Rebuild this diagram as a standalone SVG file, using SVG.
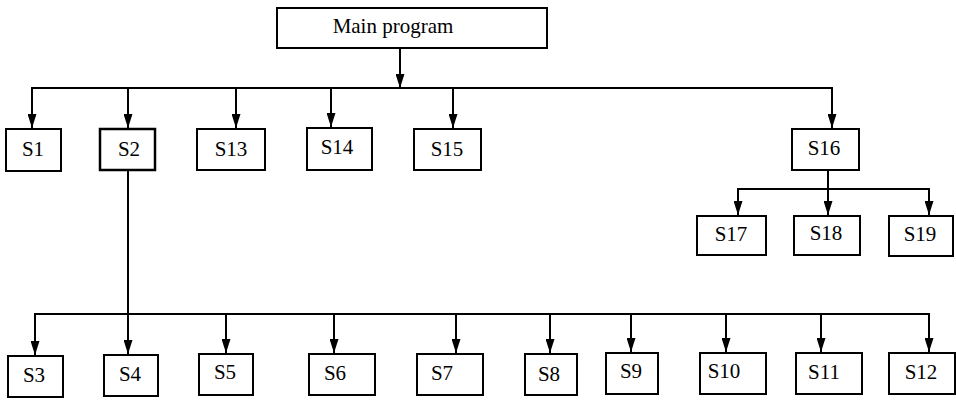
<svg xmlns="http://www.w3.org/2000/svg" width="956" height="400" viewBox="0 0 956 400">
<style>
.box{fill:#fff;stroke:#000;stroke-width:2}
.thick{stroke-width:2.5}
.lbl{font-family:"Liberation Serif","Times New Roman",serif;font-size:21px;fill:#000;text-anchor:middle}
.ln{fill:none;stroke:#000;stroke-width:2}
</style>
<defs>
<marker id="ah" markerUnits="userSpaceOnUse" markerWidth="14" markerHeight="9" refX="14" refY="4.5" orient="auto" viewBox="0 0 14 9">
<path d="M0,0 L14,4.5 L0,9 z" fill="#000"/>
</marker>
</defs>
<rect width="956" height="400" fill="#fff"/>
<g id="connectors">
<line class="ln" x1="400" y1="48" x2="400" y2="88" marker-end="url(#ah)"/>
<line class="ln" x1="31" y1="88" x2="833" y2="88"/>
<line class="ln" x1="32" y1="88" x2="32" y2="128" marker-end="url(#ah)"/>
<line class="ln" x1="128" y1="88" x2="128" y2="128" marker-end="url(#ah)"/>
<line class="ln" x1="236" y1="88" x2="236" y2="128" marker-end="url(#ah)"/>
<line class="ln" x1="331" y1="88" x2="331" y2="127" marker-end="url(#ah)"/>
<line class="ln" x1="453" y1="88" x2="453" y2="128" marker-end="url(#ah)"/>
<line class="ln" x1="832" y1="88" x2="832" y2="128" marker-end="url(#ah)"/>
<line class="ln" x1="828" y1="170" x2="828" y2="189"/>
<line class="ln" x1="737" y1="189" x2="930" y2="189"/>
<line class="ln" x1="738" y1="189" x2="738" y2="215" marker-end="url(#ah)"/>
<line class="ln" x1="828" y1="189" x2="828" y2="215" marker-end="url(#ah)"/>
<line class="ln" x1="929" y1="189" x2="929" y2="215" marker-end="url(#ah)"/>
<line class="ln" x1="128" y1="170" x2="128" y2="314"/>
<line class="ln" x1="34" y1="314" x2="930" y2="314"/>
<line class="ln" x1="35" y1="314" x2="35" y2="355" marker-end="url(#ah)"/>
<line class="ln" x1="128" y1="314" x2="128" y2="354" marker-end="url(#ah)"/>
<line class="ln" x1="226" y1="314" x2="226" y2="353" marker-end="url(#ah)"/>
<line class="ln" x1="334" y1="314" x2="334" y2="353" marker-end="url(#ah)"/>
<line class="ln" x1="456" y1="314" x2="456" y2="353" marker-end="url(#ah)"/>
<line class="ln" x1="550" y1="314" x2="550" y2="353" marker-end="url(#ah)"/>
<line class="ln" x1="631" y1="314" x2="631" y2="352" marker-end="url(#ah)"/>
<line class="ln" x1="726" y1="314" x2="726" y2="352" marker-end="url(#ah)"/>
<line class="ln" x1="821" y1="314" x2="821" y2="352" marker-end="url(#ah)"/>
<line class="ln" x1="929" y1="314" x2="929" y2="352" marker-end="url(#ah)"/>
</g>
<g id="main"><rect class="box" x="277" y="8" width="270" height="40"/><text class="lbl" x="393" y="33">Main program</text></g>
<g id="s1"><rect class="box" x="6" y="129" width="55" height="42"/><text class="lbl" x="33" y="156">S1</text></g>
<g id="s2"><rect class="box thick" x="100" y="129" width="55" height="41"/><text class="lbl" x="129" y="156">S2</text></g>
<g id="s13"><rect class="box" x="197" y="129" width="68" height="41"/><text class="lbl" x="231" y="156">S13</text></g>
<g id="s14"><rect class="box" x="307" y="128" width="65" height="42"/><text class="lbl" x="337" y="154">S14</text></g>
<g id="s15"><rect class="box" x="414" y="129" width="67" height="41"/><text class="lbl" x="447" y="156">S15</text></g>
<g id="s16"><rect class="box" x="792" y="129" width="67" height="41"/><text class="lbl" x="824" y="155">S16</text></g>
<g id="s17"><rect class="box" x="697" y="216" width="69" height="39"/><text class="lbl" x="731" y="241">S17</text></g>
<g id="s18"><rect class="box" x="794" y="216" width="66" height="39"/><text class="lbl" x="826" y="240">S18</text></g>
<g id="s19"><rect class="box" x="889" y="216" width="64" height="40"/><text class="lbl" x="920" y="241">S19</text></g>
<g id="s3"><rect class="box" x="8" y="356" width="55" height="41"/><text class="lbl" x="34" y="382">S3</text></g>
<g id="s4"><rect class="box" x="104" y="355" width="54" height="41"/><text class="lbl" x="130" y="381">S4</text></g>
<g id="s5"><rect class="box" x="199" y="354" width="54" height="41"/><text class="lbl" x="225" y="379">S5</text></g>
<g id="s6"><rect class="box" x="309" y="354" width="66" height="41"/><text class="lbl" x="335" y="380">S6</text></g>
<g id="s7"><rect class="box" x="417" y="354" width="66" height="41"/><text class="lbl" x="442" y="380">S7</text></g>
<g id="s8"><rect class="box" x="525" y="354" width="52" height="41"/><text class="lbl" x="549" y="381">S8</text></g>
<g id="s9"><rect class="box" x="606" y="353" width="52" height="41"/><text class="lbl" x="631" y="378">S9</text></g>
<g id="s10"><rect class="box" x="700" y="353" width="66" height="41"/><text class="lbl" x="724" y="378">S10</text></g>
<g id="s11"><rect class="box" x="796" y="353" width="66" height="41"/><text class="lbl" x="824" y="379">S11</text></g>
<g id="s12"><rect class="box" x="889" y="353" width="66" height="41"/><text class="lbl" x="921" y="379">S12</text></g>
</svg>
